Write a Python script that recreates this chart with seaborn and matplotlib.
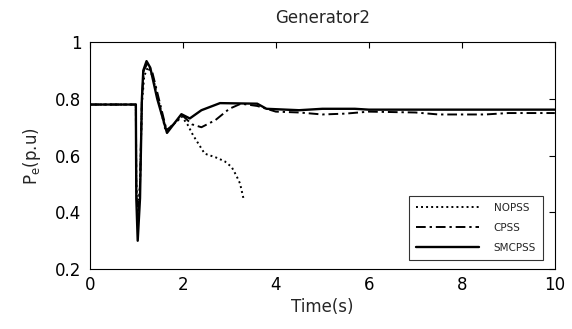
import numpy as np
import pandas as pd
import matplotlib
matplotlib.use("Agg")
import matplotlib.pyplot as plt
import seaborn as sns

# ---- data ----
time_nopss = [0, 0.99, 1.0, 1.03, 1.08, 1.12, 1.17, 1.25, 1.35, 1.5, 1.63, 1.8, 1.97,
              2.1, 2.22, 2.47, 2.72, 2.9, 3.05, 3.15, 3.23, 3.31]
pe_nopss = [0.78, 0.78, 0.5, 0.38, 0.5, 0.78, 0.88, 0.912, 0.88, 0.78, 0.687, 0.71, 0.739,
            0.71, 0.672, 0.607, 0.593, 0.58, 0.56, 0.53, 0.502, 0.445]

time_cpss = [0, 0.99, 1.0, 1.03, 1.08, 1.12, 1.16, 1.24, 1.35, 1.5, 1.65, 1.8, 2.0, 2.2,
             2.4, 2.7, 3.0, 3.25, 3.6, 4.0, 4.5, 5.0, 5.5, 6.0, 7.0, 7.5, 8.5, 9.0, 10]
pe_cpss = [0.78, 0.78, 0.5, 0.36, 0.5, 0.8, 0.9, 0.925, 0.89, 0.79, 0.69, 0.71, 0.74, 0.71,
           0.70, 0.725, 0.765, 0.783, 0.775, 0.755, 0.752, 0.745, 0.748, 0.755, 0.752,
           0.745, 0.745, 0.75, 0.75]

time_smc = [0, 0.99, 1.0, 1.03, 1.08, 1.12, 1.15, 1.22, 1.3, 1.45, 1.66, 1.8, 1.97, 2.15,
            2.4, 2.8, 3.6, 3.8, 4.5, 5.0, 5.7, 6.0, 10]
pe_smc = [0.78, 0.78, 0.45, 0.30, 0.45, 0.80, 0.90, 0.933, 0.91, 0.80, 0.68, 0.71, 0.746,
          0.731, 0.76, 0.785, 0.783, 0.765, 0.76, 0.765, 0.765, 0.762, 0.762]

series_names = ["NOPSS", "CPSS", "SMCPSS"]
x_ticks = [0, 2, 4, 6, 8, 10]
y_ticks = [0.2, 0.4, 0.6, 0.8, 1.0]
y_ticklabels = ["0.2", "0.4", "0.6", "0.8", "1"]

sns.set_style("white")
plt.rcParams["font.family"] = ["DejaVu Sans"]

fig = plt.figure(figsize=(5.72, 3.29), dpi=100)
ax = fig.add_axes([0.157, 0.182, 0.813, 0.690])

df_n = pd.DataFrame({"t": time_nopss, "pe": pe_nopss})
df_c = pd.DataFrame({"t": time_cpss, "pe": pe_cpss})
df_s = pd.DataFrame({"t": time_smc, "pe": pe_smc})

sns.lineplot(data=df_n, x="t", y="pe", ax=ax, color="black", lw=1.4,
             linestyle=(0, (1, 1.6)), label=series_names[0], estimator=None, sort=False)
sns.lineplot(data=df_c, x="t", y="pe", ax=ax, color="black", lw=1.4,
             linestyle=(0, (5, 2, 1.2, 2)), label=series_names[1], estimator=None, sort=False)
sns.lineplot(data=df_s, x="t", y="pe", ax=ax, color="black", lw=1.7,
             linestyle="-", label=series_names[2], estimator=None, sort=False)

ax.set_xlim(0, 10)
ax.set_ylim(0.2, 1.0)
ax.set_xticks(x_ticks)
ax.set_yticks(y_ticks)
ax.set_yticklabels(y_ticklabels)
ax.tick_params(direction="in", length=4, width=0.8, top=True, right=True,
               labelsize=12, colors="black")
ax.tick_params(axis="x", pad=5)
ax.tick_params(axis="y", pad=6)
for s in ax.spines.values():
    s.set_visible(True)
    s.set_color("black")
    s.set_linewidth(0.8)

ax.set_xlabel("Time(s)", fontsize=12, labelpad=3)
ax.set_ylabel(r"P$_\mathregular{e}$(p.u)", fontsize=12, labelpad=9)
ax.set_title("Generator2", fontsize=12, pad=14)

leg = ax.legend(loc="lower right", bbox_to_anchor=(0.975, 0.04), fontsize=7.5,
                frameon=True, fancybox=False, edgecolor="black", handlelength=6.0,
                borderpad=0.7, labelspacing=0.95, handletextpad=1.4, borderaxespad=0)
leg.get_frame().set_linewidth(0.8)

fig.savefig("out.png", dpi=100, facecolor="white")
